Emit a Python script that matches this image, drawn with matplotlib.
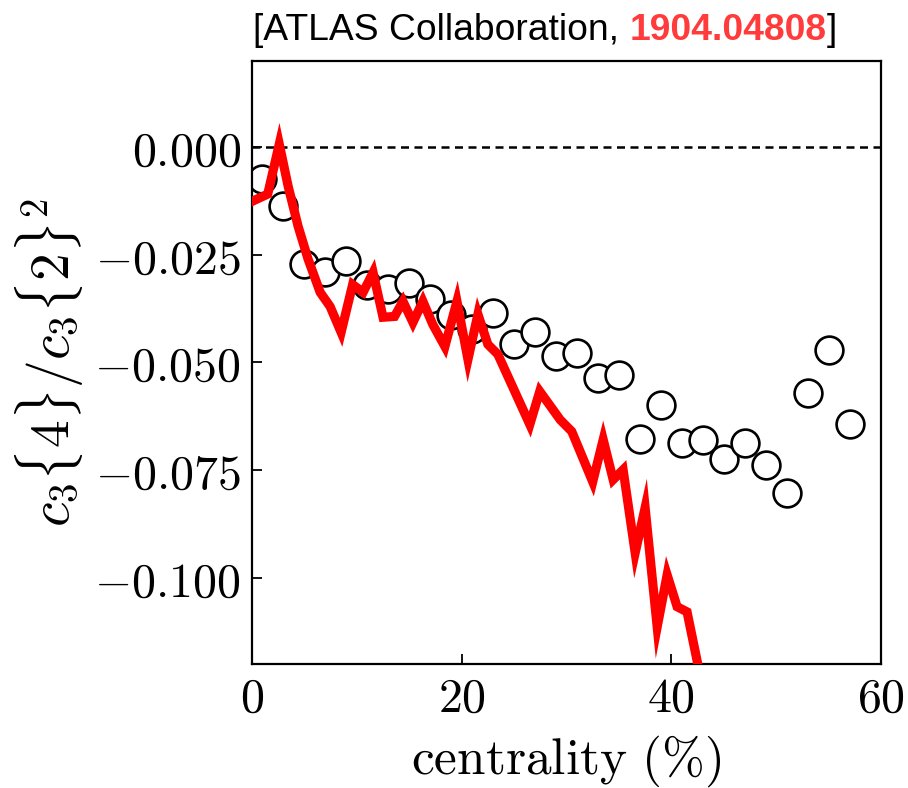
import matplotlib
matplotlib.use("Agg")
import matplotlib.pyplot as plt
from matplotlib.ticker import FixedLocator, FixedFormatter

plt.rcParams["mathtext.fontset"] = "cm"

# ATLAS measurement: c3{4}/c3{2}^2 vs centrality
data_centrality = [1, 3, 5, 7, 9, 11, 13, 15, 17, 19, 21, 23, 25, 27, 29,
                   31, 33, 35, 37, 39, 41, 43, 45, 47, 49, 51, 53, 55, 57]
data_ratio = [-0.0074, -0.0137, -0.0272, -0.0290, -0.0265, -0.0319, -0.0330,
              -0.0316, -0.0353, -0.0390, -0.0423, -0.0384, -0.0456, -0.0430,
              -0.0486, -0.0477, -0.0537, -0.0530, -0.0677, -0.0598, -0.0686,
              -0.0680, -0.0723, -0.0686, -0.0737, -0.0802, -0.0570, -0.0472,
              -0.0642]

# Model curve
model_centrality = [0, 1.5, 2.6, 3.45, 4.4, 5.35, 6.5, 7.45, 8.5, 9.6, 10.6,
                    11.55, 12.5, 13.6, 14.4, 15.35, 16.3, 17.25, 18.4, 19.55,
                    20.6, 21.55, 22.5, 23.45, 26.5, 27.45, 29.4, 30.5, 32.5,
                    33.5, 34.45, 35.4, 36.55, 37.5, 38.65, 39.6, 40.55, 41.5,
                    42.9]
model_ratio = [-0.0126, -0.0109, 0.0007, -0.0091, -0.0184, -0.0260, -0.0337,
               -0.0370, -0.0430, -0.0319, -0.0337, -0.0291, -0.0395, -0.0393,
               -0.0358, -0.0407, -0.0358, -0.0412, -0.0463, -0.0358, -0.0493,
               -0.0388, -0.0458, -0.0481, -0.0644, -0.0567, -0.0633, -0.0660,
               -0.0777, -0.0679, -0.0772, -0.0749, -0.0942, -0.0837, -0.1114,
               -0.0993, -0.1067, -0.1079, -0.1245]

x_ticks = [0, 20, 40, 60]
x_tick_labels = [r"$0$", r"$20$", r"$40$", r"$60$"]
y_ticks = [0.0, -0.025, -0.05, -0.075, -0.1]
y_tick_labels = [r"$0.000$", r"$-0.025$", r"$-0.050$", r"$-0.075$", r"$-0.100$"]

fig = plt.figure(figsize=(9.08, 7.88), dpi=100)
ax = fig.add_axes([252 / 908, 1 - 664 / 788, (881 - 252) / 908, (664 - 61) / 788])

ax.axhline(0.0, color="black", lw=1.8, ls=(0, (3.2, 2.2)), zorder=1)
ax.plot(data_centrality, data_ratio, ls="none", marker="o", ms=20,
        mfc="white", mec="black", mew=1.9, zorder=2)
ax.plot(model_centrality, model_ratio, color="#ff0000", lw=6.6,
        solid_joinstyle="miter", zorder=3)

ax.set_xlim(0, 60)
ax.set_ylim(-0.12, 0.02)
ax.xaxis.set_major_locator(FixedLocator(x_ticks))
ax.xaxis.set_major_formatter(FixedFormatter(x_tick_labels))
ax.yaxis.set_major_locator(FixedLocator(y_ticks))
ax.yaxis.set_major_formatter(FixedFormatter(y_tick_labels))
ax.minorticks_off()
ax.tick_params(direction="in", length=7, width=1.3, labelsize=34.5, pad=8)
for s in ax.spines.values():
    s.set_linewidth(1.6)

ax.set_xlabel(r"$\mathrm{centrality}\ (\%)$", fontsize=37, labelpad=8)
ax.set_ylabel(r"$c_3\{4\}/c_3\{2\}^2$", fontsize=40, labelpad=6)

# Title with highlighted arXiv number
tfont = ["Liberation Sans Narrow", "Liberation Sans", "DejaVu Sans"]
ty = 1 - 40 / 788
t1 = fig.text(253 / 908, ty, "[ATLAS Collaboration, ", fontsize=26.8,
              family=tfont, ha="left", va="baseline")
t2 = fig.text(0, 0, "1904.04808", fontsize=26.8, family=tfont, weight="bold",
              color="#ff3b3b", ha="left", va="baseline")
t3 = fig.text(0, 0, "]", fontsize=26.8, family=tfont, ha="left", va="baseline")

fig.canvas.draw()
r = fig.canvas.get_renderer()
bb1 = t1.get_window_extent(r)
t2.set_position((bb1.x1 / fig.bbox.width, ty))
bb2 = t2.get_window_extent(r)
t3.set_position((bb2.x1 / fig.bbox.width, ty))

fig.savefig("out.png", dpi=100)
